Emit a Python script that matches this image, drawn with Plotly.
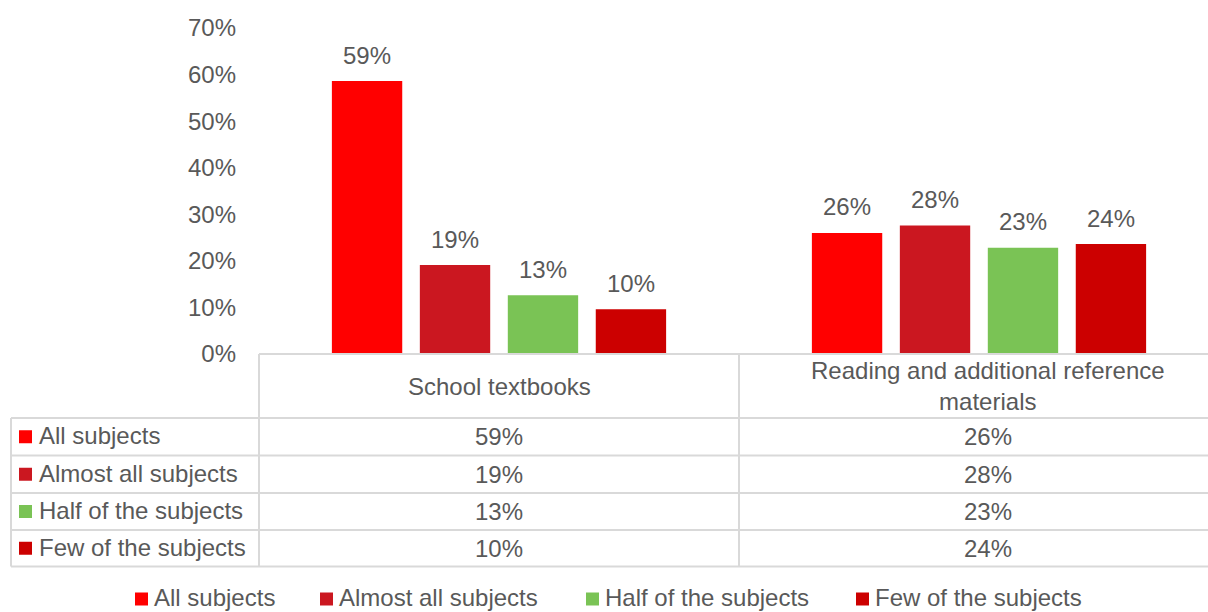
import plotly.graph_objects as go

# ---- data ----
categories = ["School textbooks", "Reading and additional reference materials"]
category_labels = ["School textbooks", "Reading and additional reference<br>materials"]
series_names = ["All subjects", "Almost all subjects", "Half of the subjects", "Few of the subjects"]
all_subjects = [58.6, 26.0]
almost_all_subjects = [19.1, 27.6]
half_of_subjects = [12.6, 22.8]
few_of_subjects = [9.6, 23.6]
series_values = [all_subjects, almost_all_subjects, half_of_subjects, few_of_subjects]
series_colors = ["#FF0000", "#CB1720", "#7AC355", "#CC0000"]
y_ticks = [0, 10, 20, 30, 40, 50, 60, 70]
y_tick_labels = [f"{v}%" for v in y_ticks]

# ---- layout geometry (reference pixels) ----
W, H = 1208, 612
L, R, T, B = 259, 1208, 28, 354
FONT = "Liberation Sans, Arial, sans-serif"
TXT = "#595959"
GRID = "#D9D9D9"
FS = 24
BARGAP = 0.267


def px(xp):
    return (xp - L) / (R - L)


def py(yp):
    return (B - yp) / (B - T)


fig = go.Figure()
for name, vals, col in zip(series_names, series_values, series_colors):
    fig.add_trace(go.Bar(
        x=list(range(len(categories))), y=vals, name=name,
        marker=dict(color=col, line=dict(width=0)),
        showlegend=False, hoverinfo="x+y+name",
    ))

shapes = []
annotations = []

# data labels above bars, anchored to data coordinates
n = len(series_names)
slot = (1 - BARGAP) / n
for j, vals in enumerate(series_values):
    for i, v in enumerate(vals):
        annotations.append(dict(xref="x", yref="y", x=i + (j - (n - 1) / 2) * slot, y=v,
                                text=f"{v:.0f}%", showarrow=False, xanchor="center",
                                yanchor="middle", yshift=26,
                                font=dict(family=FONT, size=FS, color=TXT)))


def hline(y, x0, x1):
    shapes.append(dict(type="line", xref="paper", yref="paper", x0=px(x0), x1=px(x1),
                       y0=py(y), y1=py(y), line=dict(color=GRID, width=2)))


def vline(x, y0, y1):
    shapes.append(dict(type="line", xref="paper", yref="paper", x0=px(x), x1=px(x),
                       y0=py(y0), y1=py(y1), line=dict(color=GRID, width=2)))


def square(x, yc, s, col):
    shapes.append(dict(type="rect", xref="paper", yref="paper", x0=px(x), x1=px(x + s),
                       y0=py(yc - s / 2), y1=py(yc + s / 2), fillcolor=col,
                       line=dict(width=0)))


def text(x, y, t, xanchor="center"):
    annotations.append(dict(xref="paper", yref="paper", x=px(x), y=py(y), text=t,
                            showarrow=False, xanchor=xanchor, yanchor="middle",
                            font=dict(family=FONT, size=FS, color=TXT)))


row_lines = [418, 455.5, 493, 530, 566.5]
col_centers = [499, 988]
hline(B, L, R + 5)
for yl in row_lines:
    hline(yl, 11, R + 5)
vline(L, B, row_lines[-1])
vline(739, B, row_lines[-1])
vline(11, row_lines[0], row_lines[-1])

# header row
for xc, lab in zip(col_centers, category_labels):
    text(xc, 386, lab)

# data rows
for i, (name, vals, col) in enumerate(zip(series_names, series_values, series_colors)):
    yc = (row_lines[i] + row_lines[i + 1]) / 2
    square(19, yc, 13, col)
    text(37, yc - 1, name, xanchor="left")
    for xc, v in zip(col_centers, vals):
        text(xc, yc, f"{v:.0f}%")

# bottom legend
legend_x = [135, 320, 586, 856]
for xl, name, col in zip(legend_x, series_names, series_colors):
    square(xl, 599, 13, col)
    text(xl + 17, 597, name, xanchor="left")

fig.update_layout(
    width=W, height=H, autosize=False,
    margin=dict(l=L, r=W - R, t=T, b=H - B, pad=0),
    paper_bgcolor="white", plot_bgcolor="white",
    barmode="group", bargap=BARGAP, bargroupgap=0.2,
    shapes=shapes, annotations=annotations,
    xaxis=dict(range=[-0.5, -0.5 + (R - L) / 480], showticklabels=False, showline=False,
               showgrid=False, zeroline=False, ticks=""),
    yaxis=dict(range=[0, 70], tickmode="array", tickvals=y_ticks, ticktext=y_tick_labels,
               showgrid=False, zeroline=False, showline=False, ticks="",
               ticklabelstandoff=22,
               tickfont=dict(family=FONT, size=FS, color=TXT)),
)

fig.write_html(
    "out.html",
    config={"displayModeBar": False},
    post_script="document.body.style.margin='0';document.body.style.overflow='hidden';",
)
